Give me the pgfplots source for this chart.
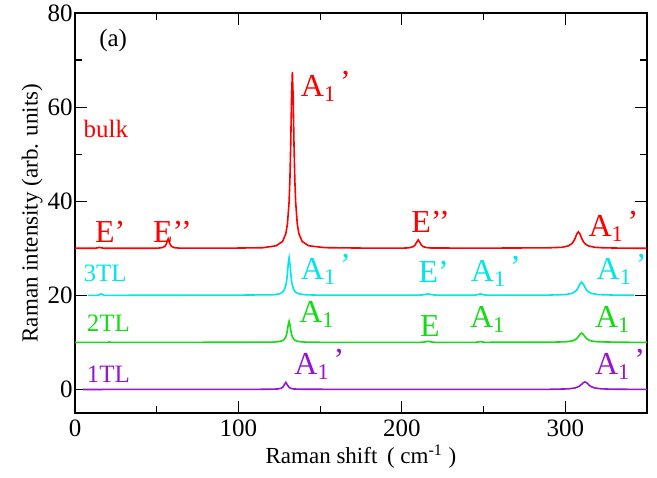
\documentclass[border=0pt]{standalone}
\usepackage{pgfplots}
\pgfplotsset{compat=1.18}
\usetikzlibrary{calc}
\usepackage{fontspec}
\setmainfont{Liberation Serif}
\definecolor{cRed}{RGB}{255,0,0}
\definecolor{cCyan}{RGB}{0,230,235}
\definecolor{cGreen}{RGB}{20,220,20}
\definecolor{cViolet}{RGB}{150,20,210}
\newcommand{\Ap}{A\textsubscript{1}\hspace{0.12em}\raisebox{0.12em}{’}}
\newcommand{\Ao}{A\textsubscript{1}}
\begin{document}
\begin{tikzpicture}
\begin{axis}[
  scale only axis, width=286pt, height=200pt,
  xmin=0, xmax=350, ymin=-5, ymax=80,
  xtick={0,100,200,300}, minor xtick={50,150,250},
  ytick={0,20,40,60,80}, minor ytick={10,30,50,70},
  tick align=inside, major tick length=6pt, minor tick length=3.5pt,
  tick style={black, line width=0.6pt},
  axis line style={line width=0.9pt},
  ticklabel style={font=\fontsize{12.5}{13}\selectfont},
  yticklabel style={inner xsep=1pt},
  /pgf/number format/assume math mode=true,
  xlabel={Raman shift \,( cm\textsuperscript{-1} )},
  ylabel={Raman intensity (arb. units)},
  label style={font=\fontsize{11.5}{12}\selectfont},
  xlabel style={yshift=3pt},
  ylabel style={yshift=-2pt},
  clip=false,
  every axis plot/.append style={line width=0.8pt},
]
\coordinate (bl) at (rel axis cs:0,0);
\coordinate (tr) at (rel axis cs:1,1);
% bulk
\addplot[cRed] coordinates {(0,30) (12,30) (14,30.1) (15,30.2) (16,30.1) (18,30) (50,30) (53,30.12) (55,30.4) (56,31) (57,32) (58,31) (59,30.4) (61,30.12) (64,30.03) (100,30.05) (115,30.12) (123,30.53) (127,31.44) (129,33.1) (130,35.2) (131,39.9) (131.5,44.6) (132,52.1) (132.5,61.9) (133,67.5) (133.5,61.9) (134,52.1) (134.5,44.6) (135,39.9) (136,35.2) (137,33.1) (139,31.44) (143,30.53) (153,30.13) (180,30.03) (200,30.03) (203,30.07) (205,30.15) (207,30.36) (208,30.65) (209,31.25) (210,31.8) (211,31.25) (212,30.65) (213,30.36) (215,30.15) (218,30.06) (250,30.03) (290,30.1) (298,30.21) (302,30.52) (304,30.99) (305,31.43) (306,32.13) (307,33.02) (308,33.5) (309,33.02) (310,32.13) (311,31.43) (312,30.99) (314,30.52) (318,30.21) (323,30.1) (335,30.03) (350,30)};
% 3TL
\addplot[cCyan] coordinates {(8,20) (14,20) (15,20.15) (16,20.3) (17,20.15) (18,20) (100,20.05) (115,20.1) (121,20.11) (125,20.31) (127,20.66) (128,21.1) (129,22.1) (129.5,23.1) (130,24.7) (130.5,26.8) (131,28) (131.5,26.8) (132,24.7) (132.5,23.1) (133,22.1) (134,21.1) (135,20.66) (137,20.31) (141,20.11) (150,20.04) (210,20.03) (213,20.1) (216,20.3) (219,20.1) (222,20.03) (244,20.03) (246,20.12) (248,20.3) (250,20.12) (252,20.03) (290,20.06) (300,20.16) (304,20.41) (306,20.79) (307,21.14) (308,21.71) (309,22.41) (310,22.8) (311,22.41) (312,21.71) (313,21.14) (314,20.79) (316,20.41) (320,20.16) (330,20.05) (342,20.02)};
% 2TL
\addplot[cGreen] coordinates {(0,10) (20,10) (21,10.12) (22,10) (100,10.03) (121,10.07) (125,10.17) (127,10.37) (128,10.62) (129,11.19) (129.5,11.76) (130,12.65) (130.5,13.8) (131,14.5) (131.5,13.8) (132,12.65) (132.5,11.76) (133,11.19) (134,10.62) (135,10.37) (137,10.17) (141,10.07) (150,10.02) (212,10.02) (214,10.1) (216,10.25) (218,10.1) (220,10.02) (245,10.02) (247,10.1) (248,10.2) (249,10.1) (251,10.02) (290,10.04) (300,10.12) (304,10.3) (306,10.56) (307,10.82) (308,11.22) (309,11.72) (310,12) (311,11.72) (312,11.22) (313,10.82) (314,10.56) (316,10.3) (320,10.12) (335,10.03) (350,10)};
% 1TL
\addplot[cViolet] coordinates {(5,0) (110,0.02) (120,0.06) (124,0.1) (126,0.24) (127,0.45) (128,0.94) (129,1.5) (130,0.94) (131,0.45) (132,0.24) (134,0.1) (140,0.04) (200,0.01) (290,0.03) (300,0.11) (302,0.13) (306,0.32) (308,0.58) (309,0.8) (310,1.11) (311,1.44) (312,1.6) (313,1.44) (314,1.11) (315,0.8) (316,0.58) (318,0.32) (322,0.13) (330,0.05) (350,0.01)};

\tikzset{big/.style={anchor=base west, inner sep=0pt, font=\fontsize{16}{16}\selectfont},
         small/.style={anchor=base west, inner sep=0pt, font=\fontsize{12.5}{13}\selectfont}}
\node[small] at (axis cs:14.6,72.8) {(a)};
\node[small, text=cRed] at (axis cs:5,53.5) {bulk};
\node[big, text=cRed] at (axis cs:138,62.2) {\Ap};
\node[big, text=cRed] at (axis cs:12,31.2) {E’};
\node[big, text=cRed] at (axis cs:47.6,31.2) {E’’};
\node[big, text=cRed] at (axis cs:205.5,33.3) {E’’};
\node[big, text=cRed] at (axis cs:314,32.5) {\Ap};

\node[small, text=cCyan] at (axis cs:5,23) {3TL};
\node[big, text=cCyan] at (axis cs:138,23.4) {\Ap};
\node[big, text=cCyan] at (axis cs:210,22.7) {E’};
\node[big, text=cCyan] at (axis cs:242,23) {\Ap};
\node[big, text=cCyan] at (axis cs:319,23.4) {\Ap};

\node[small, text=cGreen] at (axis cs:7,12.3) {2TL};
\node[big, text=cGreen] at (axis cs:137,14.2) {\Ao};
\node[big, text=cGreen] at (axis cs:211,11.3) {E};
\node[big, text=cGreen] at (axis cs:241.5,13.2) {\Ao};
\node[big, text=cGreen] at (axis cs:318,13.2) {\Ao};

\node[small, text=cViolet] at (axis cs:7,1.5) {1TL};
\node[big, text=cViolet] at (axis cs:134,3.2) {\Ap};
\node[big, text=cViolet] at (axis cs:318,3.2) {\Ap};
\end{axis}
\pgfresetboundingbox
\path ($(bl)+(-37.5pt,-32.5pt)$) rectangle ($(tr)+(5pt,6.5pt)$);
\end{tikzpicture}
\end{document}
